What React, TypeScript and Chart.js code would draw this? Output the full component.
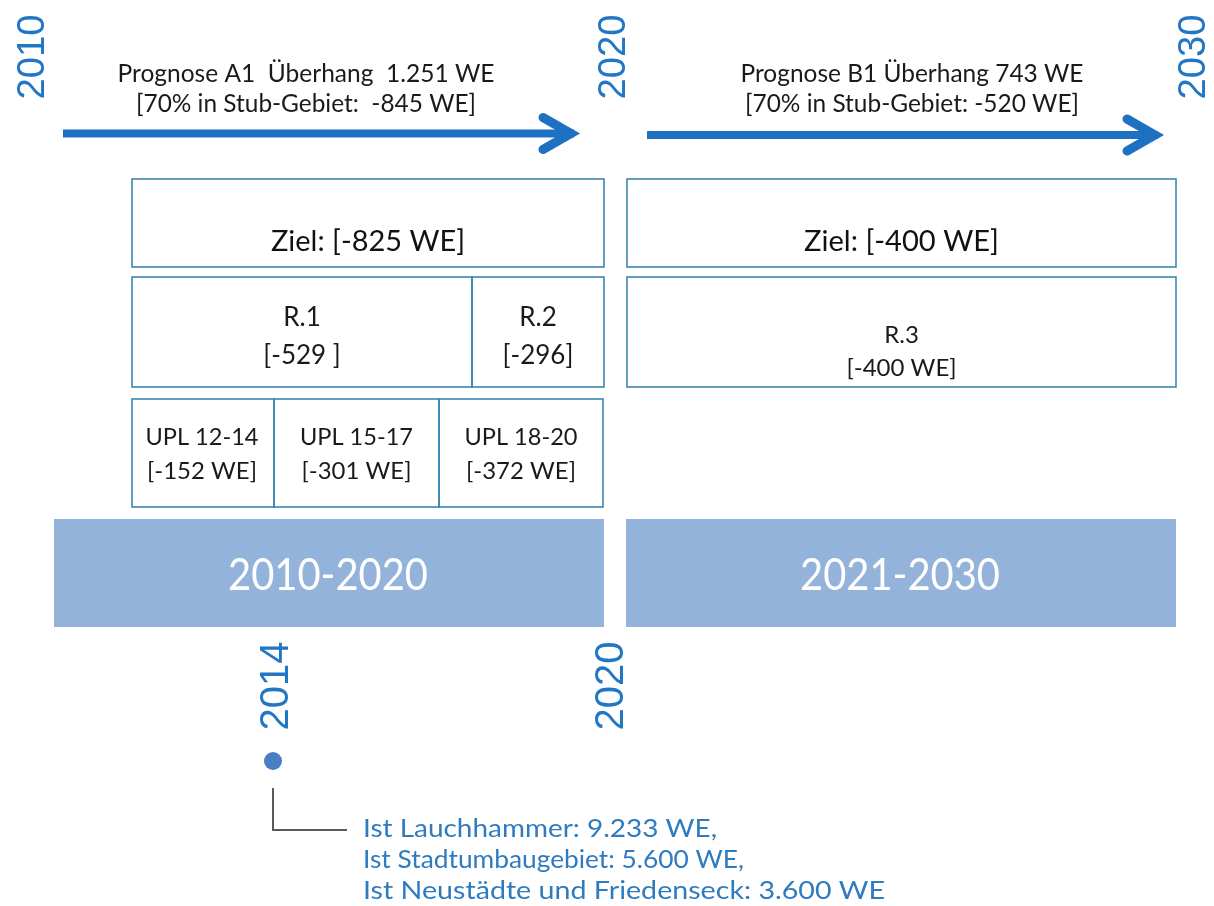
import { useEffect, useRef } from "react";
import { Chart, registerables } from "chart.js";

Chart.register(...registerables);

// ---------- data ----------
const topYears = ["2010", "2020", "2030"];
const bottomYears = ["2014", "2020"];
const periods = ["2010-2020", "2021-2030"];
const prognoseTexts = ["Prognose A1  Überhang  1.251 WE", "Prognose B1 Überhang 743 WE"];
const stubTexts = ["[70% in Stub-Gebiet:  -845 WE]", "[70% in Stub-Gebiet: -520 WE]"];
const zielValues = [-825, -400];
const rNames = ["R.1", "R.2", "R.3"];
const rTexts = ["[-529 ]", "[-296]", "[-400 WE]"];
const uplNames = ["UPL 12-14", "UPL 15-17", "UPL 18-20"];
const uplValues = [-152, -301, -372];
const istTexts = [
  "Ist Lauchhammer: 9.233 WE,",
  "Ist Stadtumbaugebiet: 5.600 WE,",
  "Ist Neustädte und Friedenseck: 3.600 WE",
];
const istPoint = [{ x: 273, y: 761 }];

// ---------- layout / style ----------
const W = 1214;
const H = 906;
const BLUE = "#1E70C2";
const YEAR_BLUE = "#2276C6";
const BORDER = "#3A86B0";
const BAND = "#93B3DB";
const TEXT_BLUE = "#2E7BBF";
const FONT = "Lato";
const YFONT = "'Liberation Sans'";

function drawText(
  ctx: CanvasRenderingContext2D,
  s: string,
  x: number,
  y: number,
  size: number,
  color: string,
  width?: number,
  align: CanvasTextAlign = "center",
  family = FONT
) {
  ctx.save();
  ctx.font = `${size}px ${family}`;
  ctx.fillStyle = color;
  ctx.textBaseline = "alphabetic";
  ctx.textAlign = align;
  let sx = 1;
  if (width) {
    const w = ctx.measureText(s).width;
    sx = width / w;
  }
  ctx.translate(x, y + size * 0.36);
  ctx.scale(sx, 1);
  ctx.fillText(s, 0, 0);
  ctx.restore();
}

function drawVertical(
  ctx: CanvasRenderingContext2D,
  s: string,
  cx: number,
  cy: number,
  size: number,
  length: number
) {
  ctx.save();
  ctx.font = `${size}px ${YFONT}`;
  ctx.fillStyle = YEAR_BLUE;
  ctx.textAlign = "center";
  ctx.textBaseline = "alphabetic";
  const w = ctx.measureText(s).width;
  ctx.translate(cx, cy);
  ctx.rotate(-Math.PI / 2);
  ctx.scale(length / w, 1);
  ctx.fillText(s, 0, size * 0.358);
  ctx.restore();
}

const diagramPlugin = {
  id: "diagram",
  beforeDatasetsDraw(chart: any) {
    const ctx: CanvasRenderingContext2D = chart.ctx;
    const X = (v: number) => chart.scales.x.getPixelForValue(v);
    const Y = (v: number) => chart.scales.y.getPixelForValue(v);

    // white background
    ctx.save();
    ctx.fillStyle = "#ffffff";
    ctx.fillRect(0, 0, chart.width, chart.height);
    ctx.restore();

    // years
    const topX = [30, 611, 1191];
    topYears.forEach((t, i) => drawVertical(ctx, t, X(topX[i]), Y(57), 38, 85));
    const botX = [274, 609];
    bottomYears.forEach((t, i) => drawVertical(ctx, t, X(botX[i]), Y(686), 40, 89));

    // arrows
    const arrows = [
      { x0: 63, x1: 574, tip: 571, arm: 543, y: 133.5 },
      { x0: 647, x1: 1158, tip: 1155, arm: 1127, y: 135 },
    ];
    arrows.forEach((a) => {
      ctx.save();
      ctx.strokeStyle = BLUE;
      ctx.lineWidth = 8;
      ctx.lineCap = "butt";
      ctx.beginPath();
      ctx.moveTo(X(a.x0), Y(a.y));
      ctx.lineTo(X(a.x1), Y(a.y));
      ctx.stroke();
      ctx.lineWidth = 9;
      ctx.lineCap = "round";
      ctx.lineJoin = "miter";
      ctx.beginPath();
      ctx.moveTo(X(a.arm), Y(a.y - 16));
      ctx.lineTo(X(a.tip), Y(a.y));
      ctx.lineTo(X(a.arm), Y(a.y + 16));
      ctx.stroke();
      ctx.restore();
    });

    // top texts
    const topCx = [306, 912];
    const w1 = [377, 343];
    const w2 = [340, 334];
    prognoseTexts.forEach((t, i) => drawText(ctx, t, X(topCx[i]), Y(73), 25, "#1a1a1a", w1[i]));
    stubTexts.forEach((t, i) => drawText(ctx, t, X(topCx[i]), Y(103), 25, "#1a1a1a", w2[i]));

    // boxes
    const box = (x0: number, y0: number, x1: number, y1: number) => {
      ctx.save();
      ctx.strokeStyle = BORDER;
      ctx.lineWidth = 1.6;
      ctx.strokeRect(X(x0), Y(y0), X(x1) - X(x0), Y(y1) - Y(y0));
      ctx.restore();
    };
    // Ziel
    const zielBoxes = [
      [132, 179, 604, 267],
      [627, 179, 1176, 267],
    ];
    const zielW = [194, 195];
    zielBoxes.forEach((b, i) => {
      box(b[0], b[1], b[2], b[3]);
      drawText(ctx, `Ziel: [${zielValues[i]} WE]`, X((b[0] + b[2]) / 2), Y(241), 28, "#111", zielW[i]);
    });
    // R boxes
    const rBoxes = [
      [132, 277, 472, 387],
      [472, 277, 604, 387],
      [627, 277, 1176, 387],
    ];
    const rY1 = [317, 317, 334];
    const rY2 = [355, 355, 367];
    rBoxes.forEach((b, i) => {
      box(b[0], b[1], b[2], b[3]);
      const cx = (b[0] + b[2]) / 2;
      drawText(ctx, rNames[i], X(cx), Y(rY1[i]), i === 2 ? 24 : 26, "#1a1a1a");
      drawText(ctx, rTexts[i], X(cx), Y(rY2[i]), i === 2 ? 24 : 26, "#1a1a1a");
    });
    // UPL boxes
    const uplEdges = [132, 274, 439, 603];
    uplNames.forEach((n, i) => {
      const x0 = uplEdges[i];
      const x1 = uplEdges[i + 1];
      box(x0, 399, x1, 507);
      const cx = (x0 + x1) / 2 + (i === 0 ? -1 : 0);
      drawText(ctx, n, X(cx), Y(437), 23, "#1a1a1a", 113);
      drawText(ctx, `[${uplValues[i]} WE]`, X(cx), Y(471), 23, "#1a1a1a", 110);
    });

    // bands
    const bands = [
      [54, 519, 604, 627],
      [626, 519, 1176, 627],
    ];
    bands.forEach((b, i) => {
      ctx.save();
      ctx.fillStyle = BAND;
      ctx.fillRect(X(b[0]), Y(b[1]), X(b[2]) - X(b[0]), Y(b[3]) - Y(b[1]));
      ctx.restore();
      const cx = i === 0 ? 328 : 900;
      drawText(ctx, periods[i], X(cx), Y(574), 44, "#ffffff", 200);
    });

    // connector
    ctx.save();
    ctx.strokeStyle = "#5a5a5a";
    ctx.lineWidth = 2;
    ctx.beginPath();
    ctx.moveTo(X(273), Y(788));
    ctx.lineTo(X(273), Y(830));
    ctx.lineTo(X(347), Y(830));
    ctx.stroke();
    ctx.restore();

    // Ist texts
    const istY = [828, 859, 890];
    const istW = [354, 381, 522];
    istTexts.forEach((t, i) => drawText(ctx, t, X(363), Y(istY[i]), 25, TEXT_BLUE, istW[i], "left"));
  },
};

export default function App() {
  const ref = useRef<HTMLCanvasElement | null>(null);

  useEffect(() => {
    document.body.style.margin = "0";
    const canvas = ref.current;
    if (!canvas) return;
    const chart = new Chart(canvas, {
      type: "scatter",
      data: {
        datasets: [
          {
            label: "Ist 2014",
            data: istPoint,
            pointRadius: 9,
            pointBackgroundColor: "#4A7DC4",
            pointBorderWidth: 0,
            pointBorderColor: "#4A7DC4",
          },
        ],
      },
      options: {
        animation: false,
        responsive: false,
        maintainAspectRatio: false,
        devicePixelRatio: 1,
        layout: { padding: 0, autoPadding: false },
        events: [],
        plugins: {
          legend: { display: false },
          tooltip: { enabled: false },
          title: { display: false },
        },
        scales: {
          x: { type: "linear", min: 0, max: W, display: false },
          y: { type: "linear", min: 0, max: H, reverse: true, display: false },
        },
      },
      plugins: [diagramPlugin],
    });
    return () => chart.destroy();
  }, []);

  return (
    <div style={{ position: "absolute", left: 0, top: 0, width: W, height: H }}>
      <canvas ref={ref} width={W} height={H} style={{ width: W, height: H, display: "block" }} />
    </div>
  );
}
